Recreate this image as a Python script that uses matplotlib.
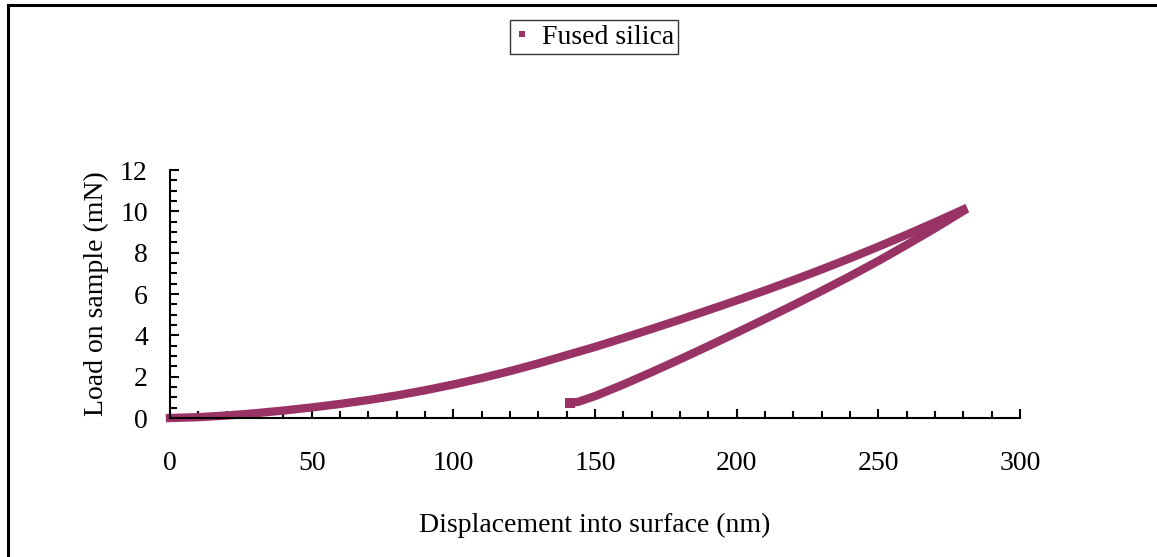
import matplotlib
matplotlib.use('Agg')
import matplotlib.pyplot as plt
from matplotlib.lines import Line2D
from matplotlib.ticker import MultipleLocator

plt.rcParams['font.family'] = ['Liberation Serif', 'DejaVu Serif']

# loading segment (nm, mN)
load_disp = [0, 10, 20, 30, 40, 50, 60, 70, 80, 90, 100, 110, 120, 130, 140,
             150, 160, 170, 180, 190, 200, 210, 220, 230, 240, 250, 260, 270, 280]
load_force = [0.0, 0.04, 0.12, 0.23, 0.36, 0.51, 0.68, 0.87, 1.09, 1.34, 1.62,
              1.93, 2.27, 2.64, 3.04, 3.44, 3.87, 4.31, 4.76, 5.22, 5.69, 6.17,
              6.67, 7.19, 7.73, 8.29, 8.87, 9.47, 10.09]

# unloading segment
unload_disp = [141, 144, 150, 160, 170, 180, 190, 200, 210, 220, 230, 240, 250,
               260, 270, 280]
unload_force = [0.74, 0.78, 1.06, 1.62, 2.22, 2.84, 3.48, 4.13, 4.79, 5.46, 6.15,
                6.86, 7.60, 8.38, 9.18, 10.02]

color = '#993366'
fs = 20

fig = plt.figure(figsize=(11.57, 5.57), dpi=100)
ax = fig.add_axes([170 / 1157, 1 - 418 / 557, 850 / 1157, 248 / 557])

for xs, ys in [(load_disp, load_force), (unload_disp, unload_force)]:
    ax.plot(xs, ys, color=color, lw=6, solid_capstyle='projecting',
            solid_joinstyle='round', clip_on=False)
# first unloading point shows as a separate square
ax.plot(unload_disp[:1], unload_force[:1], color=color, marker='s', ms=7,
        mew=0, lw=0, clip_on=False)

ax.set_xlim(0, 300)
ax.set_ylim(0, 12)
ax.xaxis.set_major_locator(MultipleLocator(50))
ax.xaxis.set_minor_locator(MultipleLocator(10))
ax.yaxis.set_major_locator(MultipleLocator(2))
ax.yaxis.set_minor_locator(MultipleLocator(0.5))

for s in ['top', 'right']:
    ax.spines[s].set_visible(False)
for s in ['left', 'bottom']:
    ax.spines[s].set_linewidth(1.5)

ax.tick_params(which='both', direction='in', width=1.5, labelsize=fs)
ax.tick_params(which='major', length=6.5)
ax.tick_params(which='minor', length=5)
ax.tick_params(axis='x', which='major', pad=24)
ax.tick_params(axis='y', which='major', pad=16)

ax.set_xlabel('Displacement into surface (nm)', fontsize=fs, labelpad=26)
ax.set_ylabel('Load on sample (mN)', fontsize=fs, labelpad=8)

handle = Line2D([], [], color=color, marker='s', ms=5, lw=0, mew=0)
leg = fig.legend([handle], ['Fused silica'], loc='upper center',
                 bbox_to_anchor=(594 / 1157, 1 - 20 / 557), fontsize=fs,
                 frameon=True, fancybox=False, edgecolor='black',
                 handlelength=0.6, handletextpad=0.4, borderpad=0.15,
                 borderaxespad=0)
leg.get_frame().set_linewidth(1)

# outer chart frame (only left and top edges fall inside the image)
x0 = 8 / 1157
y0 = 1 - 5 / 557
fig.add_artist(Line2D([x0, x0], [y0, -0.1], color='black', lw=2.2,
                      transform=fig.transFigure))
fig.add_artist(Line2D([x0, 1.1], [y0, y0], color='black', lw=2.2,
                      transform=fig.transFigure))

fig.savefig('out.png', dpi=100)
